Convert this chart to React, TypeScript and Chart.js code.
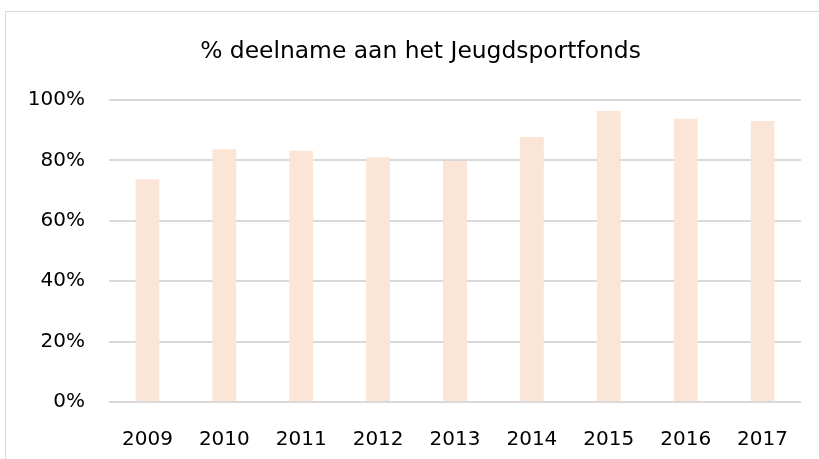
import React, { useEffect, useRef } from "react";
import { Chart, registerables } from "chart.js";

Chart.register(...registerables);

const categories = ["2009", "2010", "2011", "2012", "2013", "2014", "2015", "2016", "2017"];
const participation = [73.8, 83.7, 83.2, 81.1, 79.8, 87.8, 96.4, 93.8, 93.1];
const yTicks = [0, 20, 40, 60, 80, 100];
const titleText = "% deelname aan het Jeugdsportfonds";

export default function App() {
  const ref = useRef<HTMLCanvasElement | null>(null);

  useEffect(() => {
    document.body.style.margin = "0";
    const canvas = ref.current;
    if (!canvas) return;
    const font = "'DejaVu Sans', sans-serif";
    const unclipYLabels = {
      id: "unclipYLabels",
      afterLayout(c: any) {
        if (c.scales && c.scales.y) c.scales.y.left = 0;
      },
    };
    const chart = new Chart(canvas, {
      type: "bar",
      data: {
        labels: categories,
        datasets: [
          {
            data: participation,
            backgroundColor: "#FBE5D6",
            borderWidth: 0,
            barPercentage: 0.62,
            categoryPercentage: 0.5,
          },
        ],
      },
      options: {
        animation: false,
        responsive: false,
        maintainAspectRatio: false,
        layout: { padding: { left: 40, right: 18, top: 0, bottom: 0 } },
        plugins: {
          legend: { display: false },
          tooltip: { enabled: false },
          title: {
            display: true,
            text: titleText,
            color: "#000000",
            font: { family: font, size: 23.4, weight: "normal" },
            padding: { top: 38, bottom: 34 },
          },
        },
        scales: {
          x: {
            grid: { display: false, drawTicks: false },
            border: { display: false },
            ticks: {
              color: "#000000",
              font: { family: font, size: 20 },
              padding: 26,
              maxRotation: 0,
            },
            afterFit: (s: any) => {
              s.height = 57;
            },
          },
          y: {
            min: 0,
            max: 100,
            afterBuildTicks: (s: any) => {
              s.ticks = yTicks.map((v) => ({ value: v }));
            },
            grid: { color: "#D9D9D9", lineWidth: 2, drawTicks: false },
            border: { display: false },
            ticks: {
              color: "#000000",
              font: { family: font, size: 20 },
              padding: 24,
              callback: (v: any) => v + "%",
            },
            afterFit: (s: any) => {
              s.width = 69;
            },
          },
        },
      },
      plugins: [unclipYLabels],
    });
    return () => chart.destroy();
  }, []);

  return (
    <div style={{ position: "relative", width: 819, height: 459, overflow: "hidden", background: "#fff" }}>
      <div
        style={{
          position: "absolute",
          left: 5,
          top: 11,
          width: 840,
          height: 480,
          borderLeft: "1px solid #D9D9D9",
          borderTop: "1px solid #D9D9D9",
        }}
      />
      <canvas ref={ref} width={819} height={459} style={{ position: "absolute", left: 0, top: 0, display: "block" }} />
    </div>
  );
}
